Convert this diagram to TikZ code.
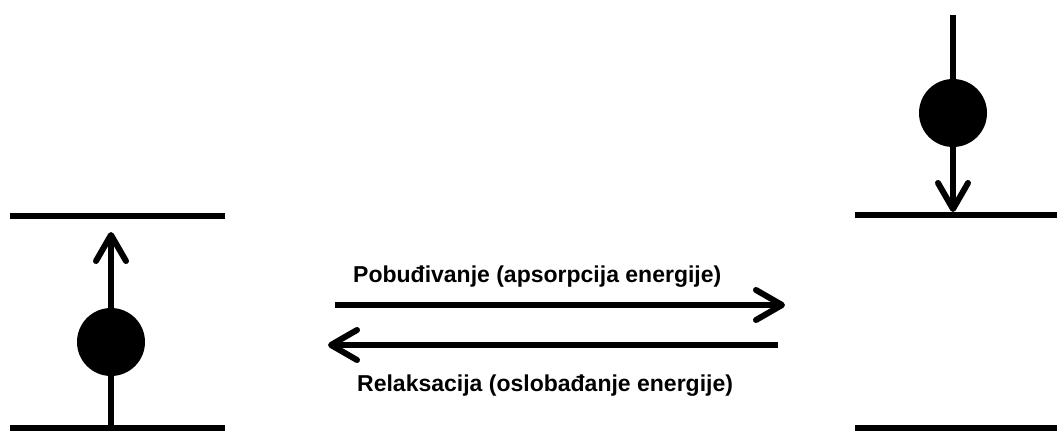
\documentclass[tikz,border=0pt]{standalone}
\usepackage{fontspec}
\setmainfont{Liberation Sans}
\usetikzlibrary{arrows.meta}
\begin{document}
\begin{tikzpicture}[x=1pt,y=-1pt,
  level/.style={line width=6.5pt},
  trans/.style={line width=6pt,-{Straight Barb[length=26pt,width=30pt,line width=6pt,line cap=round,line join=round]}},
  electron/.style={circle,fill=black,minimum size=68pt,inner sep=0pt},
  lbl/.style={font=\bfseries\fontsize{23}{26}\selectfont,inner sep=0pt,anchor=base west}]
\useasboundingbox (0,0) rectangle (1057,431);
% left system
\coordinate (l1a) at (10,216); \coordinate (l1b) at (225,216);
\coordinate (l0a) at (10,428); \coordinate (l0b) at (225,428);
\draw[level] (l1a) -- (l1b);
\draw[level] (l0a) -- (l0b);
\node[electron] (eL) at (111,342) {};
\coordinate (Lstart) at (111,431);
\coordinate (Ltip) at (111,232);
\draw[trans] (Lstart) -- (Ltip);
% right system
\coordinate (r1a) at (855,215); \coordinate (r1b) at (1057,215);
\coordinate (r0a) at (855,428); \coordinate (r0b) at (1057,428);
\draw[level] (r1a) -- (r1b);
\draw[level] (r0a) -- (r0b);
\node[electron] (eR) at (953,113) {};
\coordinate (Rstart) at (953,15);
\coordinate (Rtip) at (953,212);
\draw[trans] (Rstart) -- (Rtip);
% middle arrows
\coordinate (aS) at (335,305); \coordinate (aT) at (785,305);
\coordinate (bS) at (778,345); \coordinate (bT) at (328,345);
\draw[trans] (aS) -- (aT);
\draw[trans] (bS) -- (bT);
\node[lbl] (t1) at (353,282) {Pobuđivanje (apsorpcija energije)};
\node[lbl] (t2) at (357,391) {Relaksacija (oslobađanje energije)};
\end{tikzpicture}
\end{document}
